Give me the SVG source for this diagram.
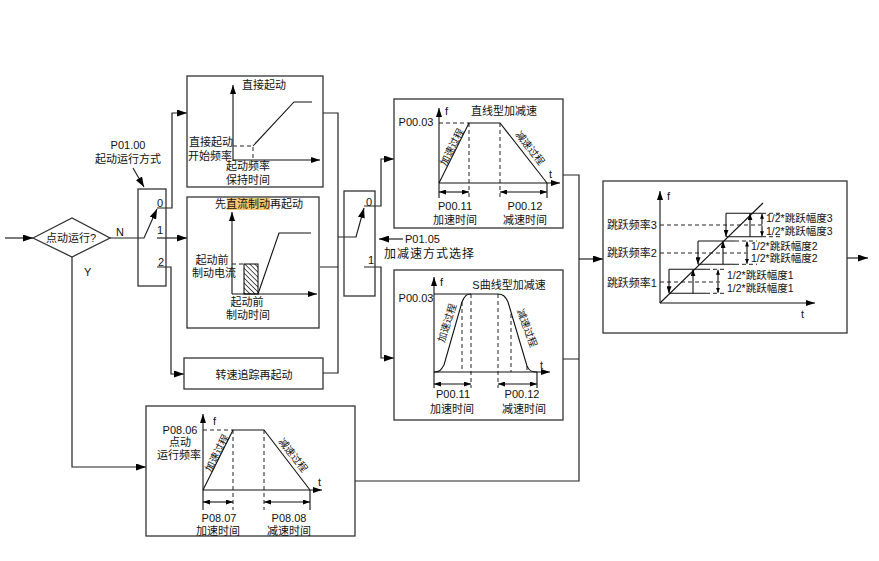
<svg xmlns="http://www.w3.org/2000/svg" width="879" height="561" viewBox="0 0 879 561">
<style>
.bx{fill:#fff;stroke:#333;stroke-width:1.3}
.ln{fill:none;stroke:#222;stroke-width:1.2}
.gl{fill:none;stroke:#111;stroke-width:1.1}
.ds{fill:none;stroke:#222;stroke-width:1;stroke-dasharray:4 3}
.t{font-family:"Liberation Sans","Noto Sans CJK SC",sans-serif;font-size:11px;fill:#111}
.m{text-anchor:middle}
.e{text-anchor:end}
.r{font-size:10px}
.s{font-size:10.5px}
</style>
<defs>
<marker id="ah" viewBox="0 0 10 7" refX="10" refY="3.5" markerWidth="10" markerHeight="7" markerUnits="userSpaceOnUse" orient="auto-start-reverse"><path d="M0,0L10,3.5L0,7z" fill="#000"/></marker>
<marker id="ax" viewBox="0 0 9 6" refX="9" refY="3" markerWidth="9" markerHeight="6" markerUnits="userSpaceOnUse" orient="auto-start-reverse"><path d="M0,0L9,3L0,6z" fill="#000"/></marker>
<marker id="sm" viewBox="0 0 7 5" refX="7" refY="2.5" markerWidth="7" markerHeight="5" markerUnits="userSpaceOnUse" orient="auto-start-reverse"><path d="M0,0L7,2.5L0,5z" fill="#000"/></marker>
<marker id="tn" viewBox="0 0 5 4" refX="5" refY="2" markerWidth="5" markerHeight="4" markerUnits="userSpaceOnUse" orient="auto-start-reverse"><path d="M0,0L5,2L0,4z" fill="#000"/></marker>
<pattern id="hatch" patternUnits="userSpaceOnUse" width="3.5" height="3.5" patternTransform="rotate(-45)"><line x1="0" y1="0" x2="0" y2="3.5" stroke="#000" stroke-width="1.3"/></pattern>
</defs>
<rect width="879" height="561" fill="#fff"/>

<g id="connectors">
<path class="ln" d="M5,238H33" marker-end="url(#ah)"/>
<path class="ln" d="M110,238H144L157,209" marker-end="url(#ah)"/>
<path class="ln" d="M157,208H172V113H187" marker-end="url(#ah)"/>
<path class="ln" d="M157,238H187" marker-end="url(#ah)"/>
<path class="ln" d="M157,267H171V374H184" marker-end="url(#ah)"/>
<path class="ln" d="M72,257V467H146" marker-end="url(#ah)"/>
<path class="ln" d="M133,168L144,187" marker-end="url(#ah)"/>
<path class="ln" d="M323,113H338V373H323M320,267H338"/>
<path class="ln" d="M338,237H356L364,208" marker-end="url(#ah)"/>
<path class="ln" d="M364,206H381V159H394" marker-end="url(#ah)"/>
<path class="ln" d="M364,267H381V358H394" marker-end="url(#ah)"/>
<path class="ln" d="M403,239H379" marker-end="url(#ah)"/>
<path class="ln" d="M563,175H579V481H355M563,359H579"/>
<path class="ln" d="M579,259H603" marker-end="url(#ah)"/>
<path class="ln" d="M847,258H868" marker-end="url(#ah)"/>
</g>

<g id="labels">
<text class="t m" x="128" y="149">P01.00</text>
<text class="t m" x="128" y="163">起动运行方式</text>
<text class="t" x="116" y="236">N</text>
<text class="t" x="84" y="276">Y</text>
<text class="t" x="405" y="243">P01.05</text>
<text class="t" x="384" y="258" style="font-size:12px;letter-spacing:1px">加减速方式选择</text>
</g>

<g id="decision">
<polygon class="bx" points="33,238 72,218 110,238 72,257"/>
<text class="t m" x="71" y="242">点动运行?</text>
</g>

<g id="switch1">
<rect class="bx" x="138" y="189" width="28" height="97" fill="none" style="fill:none"/>
<text class="t" x="157" y="207">0</text>
<text class="t" x="157" y="234">1</text>
<text class="t" x="158" y="266">2</text>
</g>

<g id="direct-start">
<rect class="bx" x="187" y="76" width="136" height="111"/>
<text class="t m" x="264" y="89">直接起动</text>
<path class="gl" d="M233,160V85" marker-end="url(#ax)"/>
<path class="gl" d="M233,160H320" marker-end="url(#ax)"/>
<path class="ds" d="M233,146H253V160"/>
<path class="gl" d="M253,146L294,102H312"/>
<text class="t m" x="211" y="146">直接起动</text>
<text class="t m" x="210" y="160">开始频率</text>
<text class="t m" x="248" y="170">起动频率</text>
<text class="t m" x="248" y="184">保持时间</text>
</g>

<g id="dc-brake-start">
<rect class="bx" x="187" y="197" width="132" height="131"/>
<rect x="227" y="198" width="43" height="12" fill="#f8c870"/>
<text class="t m" x="259" y="208">先直流制动再起动</text>
<path class="gl" d="M232,294V212" marker-end="url(#ax)"/>
<path class="gl" d="M232,294H317" marker-end="url(#ax)"/>
<path class="ds" d="M232,264H244"/>
<rect x="244" y="264" width="14" height="30" fill="url(#hatch)" stroke="#000" stroke-width="1"/>
<path class="gl" d="M258,294L279,233H311"/>
<text class="t m" x="212" y="264">起动前</text>
<text class="t m" x="214" y="277">制动电流</text>
<text class="t m" x="247" y="306">起动前</text>
<text class="t m" x="248" y="319">制动时间</text>
</g>

<g id="speed-track-start">
<rect class="bx" x="184" y="358" width="139" height="31"/>
<text class="t m" x="254" y="379">转速追踪再起动</text>
</g>

<g id="switch2">
<rect class="bx" x="344" y="191" width="31" height="105" style="fill:none"/>
<text class="t" x="366" y="206">0</text>
<text class="t" x="368" y="264">1</text>
</g>

<g id="linear-accel">
<rect class="bx" x="394" y="99" width="169" height="129"/>
<text class="t m" x="504" y="115">直线型加减速</text>
<path class="gl" d="M439,183V108" marker-end="url(#ax)"/>
<text class="t" x="445" y="115">f</text>
<text class="t m" x="416" y="126">P00.03</text>
<path class="ds" d="M439,123H469M469,123V198M500,123V198"/>
<path class="gl" d="M439,183L469,123H500L547,183"/>
<path class="gl" d="M439,183H560" marker-end="url(#ax)"/>
<text class="t" x="549" y="178">t</text>
<path class="gl" d="M439,183V198M547,183V198"/>
<path class="gl" d="M439,192H469" marker-start="url(#sm)" marker-end="url(#sm)"/>
<path class="gl" d="M500,192H547" marker-start="url(#sm)" marker-end="url(#sm)"/>
<text class="t m" x="455" y="210">P00.11</text>
<text class="t m" x="455" y="224">加速时间</text>
<text class="t m" x="525" y="210">P00.12</text>
<text class="t m" x="525" y="224">减速时间</text>
<text class="t m r" transform="translate(452,147) rotate(-63)" dy="0.35em">加速过程</text>
<text class="t m r" transform="translate(530,148) rotate(52)" dy="0.35em">减速过程</text>
</g>

<g id="s-curve-accel">
<rect class="bx" x="394" y="270" width="169" height="150"/>
<text class="t m" x="509" y="289">S曲线型加减速</text>
<path class="gl" d="M434,372V277" marker-end="url(#ax)"/>
<text class="t" x="440" y="286">f</text>
<text class="t m" x="416" y="302">P00.03</text>
<path class="gl" d="M434,294H471"/>
<path class="ds" d="M462,302V372M471,294V388M498,294V388M511,314V372M527,366V372"/>
<path class="gl" d="M434,372C440,372 441,370 444,365L462,302C465,295 467,294 471,294H498C503,294 505,296 508,302L527,366C529,371 532,372 537,372"/>
<path class="gl" d="M434,372H550" marker-end="url(#ax)"/>
<text class="t" x="540" y="369">t</text>
<path class="gl" d="M434,372V388M537,372V388"/>
<path class="gl" d="M434,384H471" marker-start="url(#sm)" marker-end="url(#sm)"/>
<path class="gl" d="M498,384H537" marker-start="url(#sm)" marker-end="url(#sm)"/>
<text class="t m" x="453" y="398">P00.11</text>
<text class="t m" x="452" y="413">加速时间</text>
<text class="t m" x="522" y="398">P00.12</text>
<text class="t m" x="524" y="413">减速时间</text>
<text class="t m r" transform="translate(447,323) rotate(-72)" dy="0.35em">加速过程</text>
<text class="t m r" transform="translate(527,328) rotate(70)" dy="0.35em">减速过程</text>
</g>

<g id="jog-run">
<rect class="bx" x="146" y="406" width="209" height="130"/>
<path class="gl" d="M203,490V414" marker-end="url(#ax)"/>
<text class="t" x="213" y="425">f</text>
<text class="t m" x="180" y="434">P08.06</text>
<text class="t m" x="180" y="446">点动</text>
<text class="t m" x="179" y="459">运行频率</text>
<path class="ds" d="M203,430H233M233,430V510M264,430V510"/>
<path class="gl" d="M203,490L233,430H264L310,490"/>
<path class="gl" d="M203,490H322" marker-end="url(#ax)"/>
<text class="t" x="318" y="486">t</text>
<path class="gl" d="M203,490V510M310,490V510"/>
<path class="gl" d="M203,502H233" marker-start="url(#sm)" marker-end="url(#sm)"/>
<path class="gl" d="M264,502H310" marker-start="url(#sm)" marker-end="url(#sm)"/>
<text class="t m" x="219" y="522">P08.07</text>
<text class="t m" x="218" y="535">加速时间</text>
<text class="t m" x="289" y="522">P08.08</text>
<text class="t m" x="289" y="535">减速时间</text>
<text class="t m r" transform="translate(217,453) rotate(-63)" dy="0.35em">加速过程</text>
<text class="t m r" transform="translate(293,455) rotate(52)" dy="0.35em">减速过程</text>
</g>

<g id="jump-frequency">
<rect class="bx" x="603" y="181" width="244" height="152"/>
<path class="gl" d="M660,303V191" marker-end="url(#ax)"/>
<text class="t" x="667" y="200">f</text>
<path class="gl" d="M660,303H815" marker-end="url(#ax)"/>
<text class="t" x="801" y="318">t</text>
<path class="gl" d="M660,303L763,203"/>
<text class="t e" x="657" y="229">跳跃频率3</text>
<text class="t e" x="657" y="257">跳跃频率2</text>
<text class="t e" x="657" y="287">跳跃频率1</text>
<path class="ds" d="M660,282H720M660,253H750M660,225H765"/>
<!-- band 1 -->
<path class="gl" d="M669,269.3H706M669,293.3H706"/>
<path class="ds" d="M706,269.3H727M706,293.3H727"/>
<path class="gl" d="M669,269.3V293.3" marker-end="url(#sm)"/>
<path class="gl" d="M693,293.3V269.3" marker-end="url(#sm)"/>
<path class="gl" d="M718,269.8V281.5M718,282.5V292.8" marker-start="url(#tn)" marker-end="url(#tn)"/>
<text class="t s" x="727" y="279">1/2*跳跃幅度1</text>
<text class="t s" x="727" y="292">1/2*跳跃幅度1</text>
<!-- band 2 -->
<path class="gl" d="M698,241H735M698,264.3H735"/>
<path class="ds" d="M735,241H757M735,264.3H757"/>
<path class="gl" d="M698,241V264.3" marker-end="url(#sm)"/>
<path class="gl" d="M723,264.3V241" marker-end="url(#sm)"/>
<path class="gl" d="M747,241.5V252.5M747,253.5V263.8" marker-start="url(#tn)" marker-end="url(#tn)"/>
<text class="t s" x="751" y="250">1/2*跳跃幅度2</text>
<text class="t s" x="751" y="262">1/2*跳跃幅度2</text>
<!-- band 3 -->
<path class="gl" d="M726,213.3H762M726,236.7H762"/>
<path class="ds" d="M762,213.3H783M762,236.7H783"/>
<path class="gl" d="M726,213.3V236.7" marker-end="url(#sm)"/>
<path class="gl" d="M750,236.7V213.3" marker-end="url(#sm)"/>
<path class="gl" d="M762,213.8V224.5M762,225.5V236.2" marker-start="url(#tn)" marker-end="url(#tn)"/>
<text class="t s" x="766" y="222">1/2*跳跃幅度3</text>
<text class="t s" x="766" y="235">1/2*跳跃幅度3</text>
</g>
</svg>
